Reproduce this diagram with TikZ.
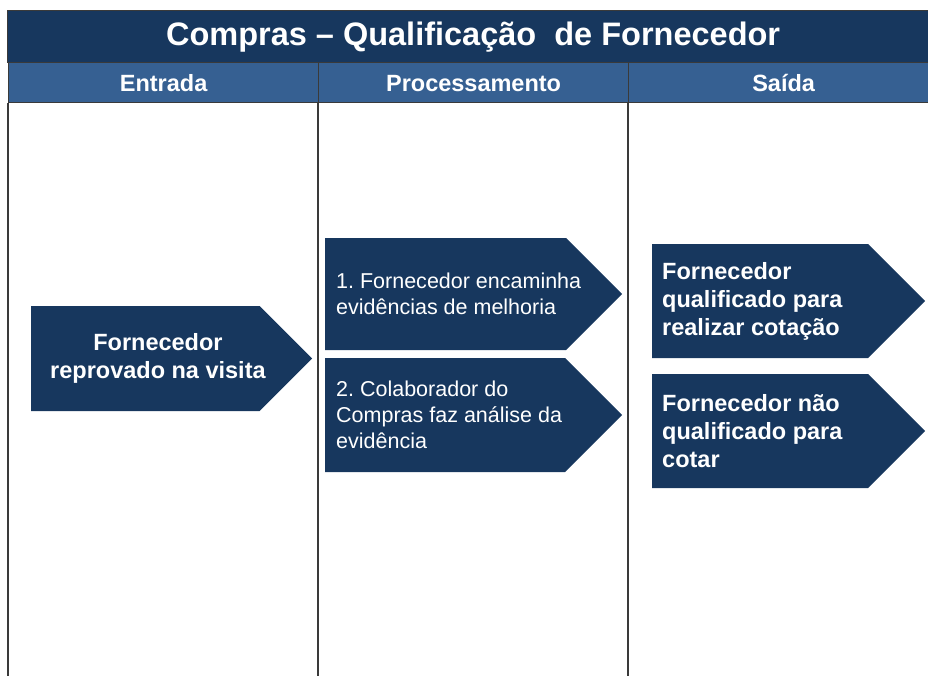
\documentclass[tikz,border=0pt]{standalone}
\usepackage{fontspec}
\setmainfont{Liberation Sans}
\usepackage{xcolor}
\usetikzlibrary{shapes.symbols, positioning}

\definecolor{navy}{HTML}{17375E}
\definecolor{headblue}{HTML}{366092}
\definecolor{gridgray}{HTML}{3A3A3A}
\frenchspacing

\begin{document}
\begin{tikzpicture}[
        x=1pt, y=-1pt,
        titlebar/.style={rectangle, draw=gridgray, line width=1.2pt, fill=navy, text=white, font=\fontsize{32.5}{36}\selectfont\bfseries, anchor=north west, minimum height=52pt, inner sep=0pt},
        headcell/.style={rectangle, draw=gridgray, line width=1.2pt, fill=headblue, text=white, font=\fontsize{23.5}{26}\selectfont\bfseries, anchor=north west, minimum width=310pt, minimum height=40pt, inner sep=0pt, text height=19.5pt, text depth=1.5pt},
        chevron/.style={signal, signal to=east, signal pointer angle=90, fill=navy, inner sep=0pt, anchor=west},
        chevtext/.style={text=white, align=left, inner sep=0pt, anchor=west},
        boldtext/.style={font=\fontsize{23.5}{28}\selectfont\bfseries},
        plaintext/.style={font=\fontsize{21.5}{26}\selectfont},
        gridline/.style={draw=gridgray, line width=1.2pt}
    ]
        \useasboundingbox (0,0) rectangle (928,675);
        \clip (0,0) rectangle (928,675);

        % Table head
        \node[titlebar, minimum width=931pt] (title) at (7,10) {\raisebox{-2pt}{Compras -- Qualificação\ \ de Fornecedor}};
        \node[headcell] (hin) at (8,62) {Entrada};
        \node[headcell] (hproc) at (318,62) {Processamento};
        \node[headcell] (hout) at (628,62) {Saída};

        % Columns
        \draw[gridline] (hin.south west) -- (8,680);
        \draw[gridline] (hproc.south west) -- (318,680);
        \draw[gridline] (hout.south west) -- (628,680);

        % Entrada
        \node[chevron, minimum width=281pt, minimum height=105pt] (in1) at (31,358.5) {};
        \node[chevtext, boldtext, align=center, right=19pt of in1.west] (in1t) {Fornecedor\\reprovado na visita};

        % Processamento
        \node[chevron, minimum width=297pt, minimum height=112pt] (proc1) at (325,294) {};
        \node[chevtext, plaintext, right=11pt of proc1.west] (proc1t) {1. Fornecedor encaminha\\evidências de melhoria};
        \node[chevron, minimum width=297pt, minimum height=114pt] (proc2) at (325,415) {};
        \node[chevtext, plaintext, right=11pt of proc2.west] (proc2t) {2. Colaborador do\\Compras faz análise da\\evidência};

        % Saida
        \node[chevron, minimum width=273pt, minimum height=114pt] (out1) at (652,301) {};
        \node[chevtext, boldtext, right=10pt of out1.west] (out1t) {Fornecedor\\qualificado para\\realizar cotação};
        \node[chevron, minimum width=273pt, minimum height=114pt] (out2) at (652,431) {};
        \node[chevtext, boldtext, right=10pt of out2.west] (out2t) {Fornecedor não\\qualificado para\\cotar};
    \end{tikzpicture}
\end{document}
